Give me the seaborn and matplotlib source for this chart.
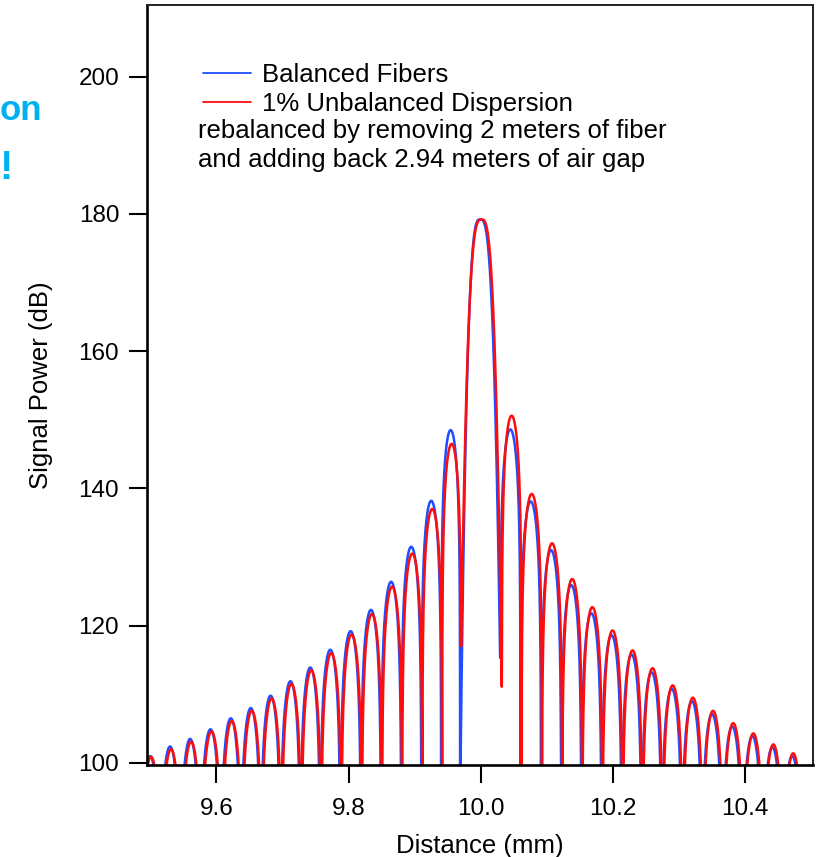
import numpy as np
import matplotlib
matplotlib.use("Agg")
import matplotlib.pyplot as plt
import seaborn as sns

# ------------------------------
# Data
# ------------------------------

# null positions (mm) bounding each lobe, left to right
blue_nulls = [9.4845, 9.5147, 9.5450, 9.5755, 9.6065, 9.6370, 9.6670, 9.6970,
              9.7270, 9.7570, 9.7875, 9.8185, 9.8490, 9.8795, 9.9100, 9.9400,
              9.9687, 10.0292, 10.0600, 10.0910, 10.1215, 10.1520, 10.1825,
              10.2130, 10.2430, 10.2735, 10.3040, 10.3345, 10.3650, 10.3955,
              10.4260, 10.4560, 10.4860]
red_nulls = [9.4860, 9.5162, 9.5465, 9.5770, 9.6080, 9.6385, 9.6685, 9.6985,
             9.7285, 9.7585, 9.7890, 9.8200, 9.8505, 9.8810, 9.9115, 9.9415,
             9.9702, 10.0317, 10.0615, 10.0925, 10.1230, 10.1535, 10.1840,
             10.2145, 10.2445, 10.2750, 10.3055, 10.3360, 10.3665, 10.3970,
             10.4275, 10.4575, 10.4875]

# lobe peak levels (dB)
blue_peaks = [101.0, 102.4, 103.5, 104.9, 106.5, 108.0, 109.8, 111.9, 113.9,
              116.5, 119.2, 122.3, 126.4, 131.5, 138.2, 148.5, 179.2, 148.6,
              138.1, 131.0, 125.9, 121.8, 118.6, 115.8, 113.2, 110.8, 109.0,
              107.1, 105.3, 103.9, 102.3, 101.0]
red_peaks = [100.9, 102.0, 103.1, 104.6, 106.1, 107.6, 109.4, 111.5, 113.5,
             116.0, 118.7, 121.7, 125.7, 130.5, 137.0, 146.5, 179.2, 150.6,
             139.2, 132.0, 126.8, 122.7, 119.3, 116.4, 113.8, 111.3, 109.5,
             107.6, 105.8, 104.3, 102.7, 101.4]

# level of the two nulls either side of the main lobe (others drop off the axis)
DEEP = 95.0
blue_center_nulls = [DEEP, 115.3]
red_center_nulls = [117.0, 111.1]
MAIN = 16

x_ticks = [9.6, 9.8, 10.0, 10.2, 10.4]
y_ticks = [100, 120, 140, 160, 180, 200]

legend_labels = ["Balanced Fibers", "1% Unbalanced Dispersion"]
note_lines = ["rebalanced by removing 2 meters of fiber",
              "and adding back 2.94 meters of air gap"]


def build_trace(nulls, peaks, center_nulls, n=160):
    floors = [DEEP] * len(nulls)
    floors[MAIN], floors[MAIN + 1] = center_nulls
    xs, ys = [], []
    for i, pk in enumerate(peaks):
        a, b = nulls[i], nulls[i + 1]
        t = np.linspace(0, 1, n)
        x = a + (b - a) * t
        if i == MAIN:
            u = 2 * t - 1
            depth = np.where(u < 0, pk - floors[i], pk - floors[i + 1])
            y = pk - depth * np.abs(u) ** 3.0
        else:
            y = pk + 20 * np.log10(np.clip(np.sin(np.pi * t), 1e-6, None))
            y = np.maximum(y, np.where(t < 0.5, floors[i], floors[i + 1]))
        xs.append(x)
        ys.append(y)
    return np.concatenate(xs), np.concatenate(ys)


bx, by = build_trace(blue_nulls, blue_peaks, blue_center_nulls)
rx, ry = build_trace(red_nulls, red_peaks, red_center_nulls)

# ------------------------------
# Plot
# ------------------------------

sns.set_theme(style="ticks")
plt.rcParams['font.family'] = ['Liberation Sans', 'DejaVu Sans']
plt.rcParams['text.color'] = 'black'

fig = plt.figure(figsize=(8.23, 8.57), dpi=100)
ax = fig.add_axes([147 / 823, 1 - 765 / 857, 666 / 823, 760 / 857])

sns.lineplot(x=bx, y=by, ax=ax, color='#1f4dff', lw=1.8, sort=False,
             estimator=None, label=legend_labels[0])
sns.lineplot(x=rx, y=ry, ax=ax, color='#ff0d0d', lw=1.8, sort=False,
             estimator=None, label=legend_labels[1])

ax.set_xlim(9.495, 10.5025)
ax.set_ylim(99.7, 210.44)
ax.set_xticks(x_ticks)
ax.set_xticklabels([f"{v:.1f}" for v in x_ticks])
ax.set_yticks(y_ticks)
ax.set_xlabel("Distance (mm)", fontsize=18.5, color='black', labelpad=10)
ax.set_ylabel("Signal Power (dB)", fontsize=18.5, color='black', labelpad=18)

ax.tick_params(axis='both', direction='out', length=13, width=1.5,
               color='black', labelsize=17.5, labelcolor='black')
ax.tick_params(axis='x', pad=10.5)
ax.tick_params(axis='y', pad=7)
for side in ['left', 'bottom']:
    ax.spines[side].set_linewidth(1.9)
    ax.spines[side].set_color('black')
for side in ['top', 'right']:
    ax.spines[side].set_visible(True)
    ax.spines[side].set_linewidth(1.4)
    ax.spines[side].set_color('#222222')

leg = ax.legend(loc='upper left', bbox_to_anchor=(203 / 823, 1 - 63 / 857),
                bbox_transform=fig.transFigure, frameon=False,
                fontsize=18.5, handlelength=1.85, handletextpad=0.45,
                borderpad=0, borderaxespad=0, labelspacing=0.19,
                labelcolor='black')
for line in leg.get_lines():
    line.set_linewidth(1.3)

for i, txt in enumerate(note_lines):
    fig.text(198 / 823, 1 - (131 + 29.5 * i) / 857, txt, fontsize=18.5,
             va='center', ha='left', color='black')

# cut-off slide title fragments at the left edge
fig.text(42 / 823, 1 - 111 / 857, "on", fontsize=25, fontweight='bold',
         color='#00b0f0', ha='right', va='center')
fig.text(13 / 823, 1 - 168 / 857, "!", fontsize=29, fontweight='bold',
         color='#00b0f0', ha='right', va='center')

fig.savefig("out.png", dpi=100)
